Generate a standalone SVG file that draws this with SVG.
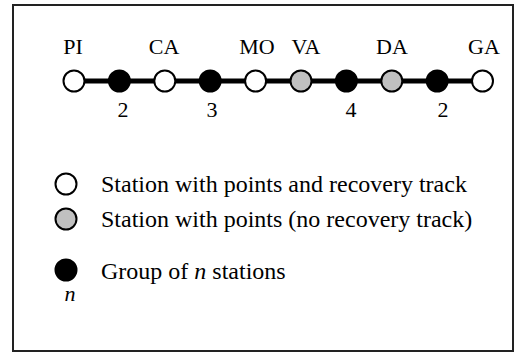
<svg xmlns="http://www.w3.org/2000/svg" width="514" height="353" viewBox="0 0 514 353" font-family="'Liberation Serif', 'Times New Roman', serif" font-size="22">
<style>
.lbl{text-anchor:middle}
.leg{font-size:24px}
.w{fill:#fff;stroke:#000;stroke-width:2}
.g{fill:#c0c0c0;stroke:#000;stroke-width:2}
.b{fill:#000;stroke:#000;stroke-width:2}
.track{stroke:#000;stroke-width:5}
</style>
<rect x="13" y="5" width="500" height="346" fill="#fff" stroke="#222" stroke-width="2"/>
<g id="connectors">
<line class="track" x1="74" y1="81" x2="482.5" y2="81"/>
</g>
<g id="PI"><circle class="w" cx="74" cy="81" r="10.5"/><text class="lbl" x="73" y="54">PI</text></g>
<g id="G1"><circle class="b" cx="119.4" cy="81" r="10.5"/><text class="lbl" x="123" y="117">2</text></g>
<g id="CA"><circle class="w" cx="164.8" cy="81" r="10.5"/><text class="lbl" x="164" y="54">CA</text></g>
<g id="G2"><circle class="b" cx="210.2" cy="81" r="10.5"/><text class="lbl" x="212" y="117">3</text></g>
<g id="MO"><circle class="w" cx="255.6" cy="81" r="10.5"/><text class="lbl" x="257" y="54">MO</text></g>
<g id="VA"><circle class="g" cx="301" cy="81" r="10.5"/><text class="lbl" x="306" y="54">VA</text></g>
<g id="G3"><circle class="b" cx="346.4" cy="81" r="10.5"/><text class="lbl" x="351" y="117">4</text></g>
<g id="DA"><circle class="g" cx="391.8" cy="81" r="10.5"/><text class="lbl" x="392" y="54">DA</text></g>
<g id="G4"><circle class="b" cx="437.2" cy="81" r="10.5"/><text class="lbl" x="443" y="117">2</text></g>
<g id="GA"><circle class="w" cx="482.5" cy="81" r="10.5"/><text class="lbl" x="484" y="54">GA</text></g>
<g id="legend-white"><circle class="w" cx="66" cy="184" r="10.5"/><text class="leg" x="101" y="192">Station with points and recovery track</text></g>
<g id="legend-gray"><circle class="g" cx="66" cy="219" r="10.5"/><text class="leg" x="101" y="227">Station with points (no recovery track)</text></g>
<g id="legend-black"><circle class="b" cx="66" cy="270" r="10.5"/><text class="leg" x="101" y="279">Group of <tspan font-style="italic">n</tspan> stations</text><text class="lbl" x="70" y="301" font-style="italic">n</text></g>
</svg>
